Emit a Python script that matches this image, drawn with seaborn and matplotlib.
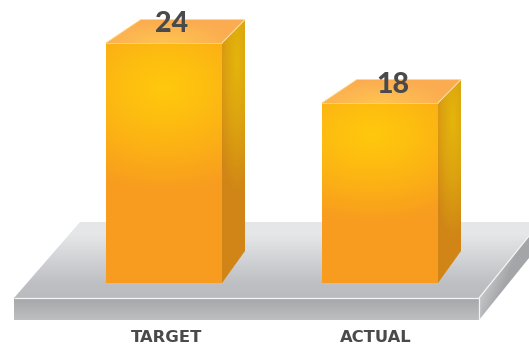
import numpy as np
import pandas as pd
import seaborn as sns
import matplotlib
matplotlib.use("Agg")
import matplotlib.pyplot as plt
from matplotlib.colors import to_rgb
from matplotlib.patches import Polygon
from matplotlib.transforms import Affine2D, ScaledTranslation

categories = ["TARGET", "ACTUAL"]
values = [24, 18]

W, H = 529, 348
sns.set_theme(style="white")
plt.rcParams["font.family"] = ["Lato", "DejaVu Sans"]

fig = plt.figure(figsize=(W / 100, H / 100), dpi=100)
ax = fig.add_axes([0, 0, 1, 1])
ax.set_facecolor("white")

# Pixel space with the origin at the top left, used for the scenery and shading
px = Affine2D().scale(1, -1).translate(0, H)
yy, xx = np.mgrid[0:H, 0:W] + 0.5


def ramp(t, stops):
    pos = [s[0] for s in stops]
    cols = np.array([to_rgb(s[1]) for s in stops])
    return np.dstack([np.interp(t, pos, cols[:, i]) for i in range(3)])


def paint(poly, rgb, z):
    patch = Polygon(poly, closed=True, transform=px, fc="none", ec="none", zorder=z)
    ax.add_patch(patch)
    im = ax.imshow(rgb, extent=(0, W, H, 0), transform=px, aspect="auto",
                   interpolation="bilinear", zorder=z)
    im.set_clip_path(patch)


def edge(p, q, z, color="#f4f4f5", lw=0.9):
    ax.plot([p[0], q[0]], [p[1], q[1]], transform=px, color=color, lw=lw,
            zorder=z, solid_capstyle="butt")


def radial(cx, cy, a, b):
    return np.clip(np.hypot((xx - cx) / a, (yy - cy) / b), 0, 1)


# Bars through seaborn's categorical scale
data = pd.DataFrame({"category": categories, "value": values})
sns.barplot(data=data, x="category", y="value", width=116 / 216, color="#F89C20",
            saturation=1, ax=ax, zorder=5)
ax.set_xlim(-164 / 216, (W - 164) / 216)
ax.set_ylim(-6.5, 28.3)
ax.set_xlabel("")
ax.set_ylabel("")
ax.set_yticks([])
sns.despine(ax=ax, left=True, bottom=True)

# Platform under the bars
top_face = [(14, 298), (80, 222), (529, 222), (529, 236), (479, 298)]
front_face = [(14, 298), (479, 298), (479, 320), (14, 320)]
side_face = [(479, 298), (529, 236), (529, 258), (479, 320)]
paint(top_face, ramp(np.clip((yy - 235) / 63, 0, 1),
                     [(0, "#E5E6E8"), (0.75, "#BFC0C3"), (1, "#BABBBE")]), 1)
paint(front_face, ramp(np.clip((yy - 298) / 22, 0, 1),
                       [(0, "#A6A7AA"), (1, "#BEBFC1")]), 1)
side_t = np.clip((xx - 479 + (yy - 298) * 0.4) / 50, 0, 1)
paint(side_face, ramp(side_t, [(0, "#C6C7C9"), (0.4, "#A5A6A9"), (1, "#A3A4A7")]), 1)
edge((14, 298), (479, 298), 2)
edge((479, 298), (529, 236), 2)
edge((479, 298), (479, 320), 2)

# Depth faces and shading for each bar, derived from the drawn bar rectangles
for bar in ax.patches[:len(values)]:
    (x0, y1), (x1, y0) = px.inverted().transform(
        ax.transData.transform([(bar.get_x(), 0), (bar.get_x() + bar.get_width(), bar.get_height())]))
    mid = (x0 + x1) / 2
    h = y1 - y0
    dx = 23
    dtop, dbot = 23.5, 32

    bar.set_facecolor("none")
    bar.set_edgecolor("none")
    front = [(x0, y0), (x1, y0), (x1, y1), (x0, y1)]
    glow_y = y0 + (45 if h > 200 else 31)
    glow_x = mid + (1 if h > 200 else -8)
    glow_b = 104 if h > 200 else 88
    paint(front, ramp(radial(glow_x, glow_y, 135, glow_b),
                      [(0, "#FFC90C"), (0.3, "#FEBE10"), (0.65, "#FBAE16"), (1, "#F89C20")]), 4)

    side = [(x1, y0), (x1 + dx, y0 - dtop), (x1 + dx, y1 - dbot), (x1, y1)]
    paint(side, ramp(radial(x1 + dx - 8, y0 + 18, 22, glow_b + 30),
                     [(0, "#E4B60B"), (0.5, "#DCA210"), (1, "#D08516")]), 4)

    top = [(x0, y0), (x0 + dx + 12, y0 - dtop), (x1 + dx, y0 - dtop), (x1, y0)]
    paint(top, ramp(radial(mid, y0, 75, 24), [(0, "#FEC450"), (1, "#FBAB50")]), 4)

    edge((x0, y0), (x1, y0), 6, "#FDD27A", 0.7)
    edge((x0, y0), (x0 + dx + 12, y0 - dtop), 6, "#FDD27A", 0.6)
    edge((x1, y0), (x1 + dx, y0 - dtop), 6, "#FDE3A0", 0.7)

ax.set_xlim(-164 / 216, (W - 164) / 216)
ax.set_ylim(-6.5, 28.3)

# Value labels above the bars
label_offsets = [(8, 11), (13, 10)]
for i, (v, off) in enumerate(zip(values, label_offsets)):
    ax.annotate(str(v), xy=(i, v), xytext=off, textcoords="offset pixels",
                ha="center", va="baseline", fontsize=20.5, fontweight="black",
                family="Lato", color="#4A4A4C", zorder=8)

# Category labels sit inside the axes, under the platform
ax.set_xticks(range(len(categories)), categories)
ax.tick_params(axis="x", length=0, pad=-9.5, labelsize=11.8, labelcolor="#4A4A4C")
tick_shift = [3, -4]
for lab, s in zip(ax.get_xticklabels(), tick_shift):
    lab.set_family("DejaVu Sans")
    lab.set_fontweight("bold")
    lab.set_va("top")
    lab.set_transform(lab.get_transform()
                      + ScaledTranslation(s / 100, 5 / 100, fig.dpi_scale_trans))

fig.savefig("out.png", dpi=100, facecolor="white")
